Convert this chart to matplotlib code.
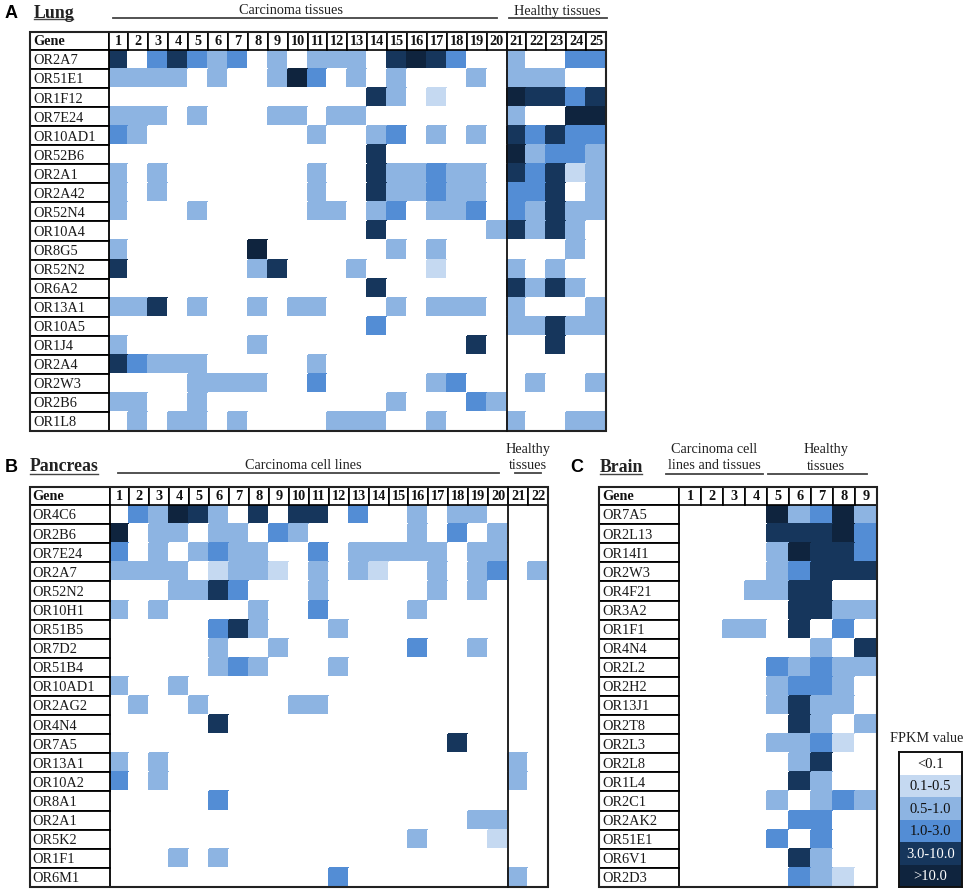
import numpy as np
import matplotlib
matplotlib.use('Agg')
import matplotlib.pyplot as plt
from matplotlib.colors import ListedColormap, BoundaryNorm
from matplotlib.lines import Line2D
from matplotlib.patches import Rectangle

W, H = 968, 895
plt.rcParams['font.family'] = ['Liberation Serif', 'DejaVu Serif']

# FPKM classes, one digit per cell: 0 <0.1 ... 5 >10.0
legend_labels = ['<0.1', '0.1-0.5', '0.5-1.0', '1.0-3.0', '3.0-10.0', '>10.0']
colors = ['#ffffff', '#c5d9f1', '#8db4e2', '#538dd5', '#16365c', '#0f243e']

lung_genes = ['OR2A7', 'OR51E1', 'OR1F12', 'OR7E24', 'OR10AD1', 'OR52B6', 'OR2A1', 'OR2A42',
              'OR52N4', 'OR10A4', 'OR8G5', 'OR52N2', 'OR6A2', 'OR13A1', 'OR10A5', 'OR1J4',
              'OR2A4', 'OR2W3', 'OR2B6', 'OR1L8']
lung_levels = ['40343 23020 22204 54300 20033',
               '22220 20025 30202 00020 22200',
               '00000 00000 00042 01000 54434',
               '22202 00022 02200 00000 20055',
               '32000 00000 20023 02020 43433',
               '00000 00000 00040 00000 52332',
               '20200 00000 20042 23220 43412',
               '20200 00000 20042 23220 33402',
               '20002 00000 22023 02230 32422',
               '00000 00000 00040 00002 42420',
               '20000 00500 00002 02000 00020',
               '40000 00240 00200 01000 20200',
               '00000 00000 00040 00000 42420',
               '22402 00202 20002 02220 20002',
               '00000 00000 00030 00000 22422',
               '20000 00200 00000 00040 00400',
               '43222 00000 20000 00000 00000',
               '00002 22200 30000 02300 02002',
               '22002 00000 00002 00032 00000',
               '02022 02000 02220 02000 20022']

pancreas_genes = ['OR4C6', 'OR2B6', 'OR7E24', 'OR2A7', 'OR52N2', 'OR10H1', 'OR51B5', 'OR7D2',
                  'OR51B4', 'OR10AD1', 'OR2AG2', 'OR4N4', 'OR7A5', 'OR13A1', 'OR10A2', 'OR8A1',
                  'OR2A1', 'OR5K2', 'OR1F1', 'OR6M1']
pancreas_levels = ['03254 20404 40300 20220 00',
                   '50220 22032 00000 20302 00',
                   '30202 32200 30222 22022 00',
                   '22220 12210 20210 02023 02',
                   '00022 43000 20000 02020 00',
                   '20200 00200 30000 20000 00',
                   '00000 34200 02000 00000 00',
                   '00000 20020 00000 30020 00',
                   '00000 23200 02000 00000 00',
                   '20020 00000 00000 00000 00',
                   '02002 00002 20000 00000 00',
                   '00000 40000 00000 00000 00',
                   '00000 00000 00000 00400 00',
                   '20200 00000 00000 00000 20',
                   '30200 00000 00000 00000 20',
                   '00000 30000 00000 00000 00',
                   '00000 00000 00000 00022 00',
                   '00000 00000 00000 20001 00',
                   '00020 20000 00000 00000 00',
                   '00000 00000 03000 00000 20']

brain_genes = ['OR7A5', 'OR2L13', 'OR14I1', 'OR2W3', 'OR4F21', 'OR3A2', 'OR1F1', 'OR4N4', 'OR2L2',
               'OR2H2', 'OR13J1', 'OR2T8', 'OR2L3', 'OR2L8', 'OR1L4', 'OR2C1', 'OR2AK2', 'OR51E1',
               'OR6V1', 'OR2D3']
brain_levels = ['0000 52352',
                '0000 44453',
                '0000 25443',
                '0000 23444',
                '0002 24400',
                '0000 04422',
                '0022 04030',
                '0000 00204',
                '0000 32322',
                '0000 23320',
                '0000 24220',
                '0000 04202',
                '0000 22310',
                '0000 02400',
                '0000 04200',
                '0000 20232',
                '0000 03300',
                '0000 30300',
                '0000 04200',
                '0000 03210']

cmap = ListedColormap(colors)
norm = BoundaryNorm(np.arange(-0.5, 6.5), cmap.N)

fig = plt.figure(figsize=(W / 100, H / 100), dpi=100)


def to_grid(rows):
    return np.array([[int(c) for c in r.replace(' ', '')] for r in rows])


def fig_text(x, y, s, **kw):
    # x, y in pixels from the top left corner
    kw.setdefault('ha', 'center')
    kw.setdefault('va', 'center')
    kw.setdefault('fontsize', 10.3)
    kw.setdefault('color', '#222222')
    fig.text(x / W, 1 - y / H, s, **kw)


def fig_line(x0, x1, y, lw=1.3, color='#444444'):
    fig.add_artist(Line2D([x0 / W, x1 / W], [1 - y / H, 1 - y / H], lw=lw, color=color))


def panel(left, right, top, bottom, gene_w, head_h, genes, rows, split):
    data = to_grid(rows)
    nrow, ncol = data.shape
    ax = fig.add_axes([left / W, 1 - bottom / H, (right - left) / W, (bottom - top) / H])
    cw = (right - left - gene_w) / ncol
    rh = (bottom - top - head_h) / nrow
    x0, y0 = -gene_w / cw, -head_h / rh
    ax.pcolormesh(np.arange(ncol + 1), np.arange(nrow + 1), data, cmap=cmap, norm=norm,
                  edgecolors='face', linewidth=0.2)
    ax.set_xlim(x0, ncol)
    ax.set_ylim(nrow, y0)
    ax.axis('off')
    # header boxes
    ax.add_patch(Rectangle((x0, y0), -x0, -y0, fc='white', ec='black', lw=1.3))
    ax.text(x0 + 0.15, y0 / 2, 'Gene', fontweight='bold', fontsize=10.3, va='center', color='#111111')
    for j in range(ncol):
        ax.add_patch(Rectangle((j, y0), 1, -y0, fc='white', ec='black', lw=1.2))
        ax.text(j + 0.5, y0 / 2, str(j + 1), fontweight='bold', fontsize=10.3, ha='center', va='center',
                color='#111111')
    # gene column
    for i, g in enumerate(genes):
        ax.add_patch(Rectangle((x0, i), -x0, 1, fc='white', ec='black', lw=1.3))
        ax.text(x0 + 0.15, i + 0.52, g, fontsize=10.4, va='center', color='#1a1a1a')
    if split:
        ax.plot([split, split], [y0, nrow], color='#111111', lw=1.3, clip_on=False)
    ax.add_patch(Rectangle((x0, y0), ncol - x0, nrow - y0, fc='none', ec='#222222', lw=1.5, clip_on=False))


panel(30, 606, 33, 432, 78.5, 18, lung_genes, lung_levels, 20)
panel(29.5, 548, 488, 888, 80, 18, pancreas_genes, pancreas_levels, 20)
panel(599, 877, 488, 888, 80, 18, brain_genes, brain_levels, None)

# panel A headings
fig_text(11, 13, 'A', family='Liberation Sans', fontweight='bold', fontsize=13, color='black')
fig_text(34, 13, 'Lung', ha='left', fontweight='bold', fontsize=12.8)
fig_line(34, 73, 20, lw=1)
fig_text(291, 10, 'Carcinoma tissues')
fig_line(113, 497, 19)
fig_text(557, 11, 'Healthy tissues')
fig_line(509, 607, 19)

# panel B headings
fig_text(11, 468, 'B', family='Liberation Sans', fontweight='bold', fontsize=13, color='black')
fig_text(30, 467, 'Pancreas', ha='left', fontweight='bold', fontsize=12.8)
fig_line(30, 98, 475, lw=1)
fig_text(303, 466, 'Carcinoma cell lines')
fig_line(118, 499, 474)
fig_text(528, 450, 'Healthy')
fig_text(528, 466, 'tissues')
fig_line(515, 541, 474)

# panel C headings
fig_text(577, 468, 'C', family='Liberation Sans', fontweight='bold', fontsize=13, color='black')
fig_text(600, 468, 'Brain', ha='left', fontweight='bold', fontsize=12.8)
fig_line(600, 642, 475, lw=1)
fig_text(714, 450, 'Carcinoma cell')
fig_text(714, 466, 'lines and tissues')
fig_line(666, 763, 475)
fig_text(826, 450, 'Healthy')
fig_text(826, 467, 'tissues')
fig_line(768, 867, 475)

# colour key
fig_text(927, 739, 'FPKM value')
lax = fig.add_axes([899 / W, 1 - 888 / H, 63 / W, 135 / H])
levels = np.arange(len(legend_labels)).reshape(-1, 1)
lax.pcolormesh(levels, cmap=cmap, norm=norm)
lax.set_ylim(len(legend_labels), 0)
lax.set_xticks([])
lax.set_yticks([])
for sp in lax.spines.values():
    sp.set_linewidth(1.4)
    sp.set_color('#111111')
for i, lab in enumerate(legend_labels):
    lax.text(0.5, i + 0.5, lab, ha='center', va='center', fontsize=10.5,
             color='white' if i >= 4 else '#111111')

fig.savefig('out.png', dpi=100)
